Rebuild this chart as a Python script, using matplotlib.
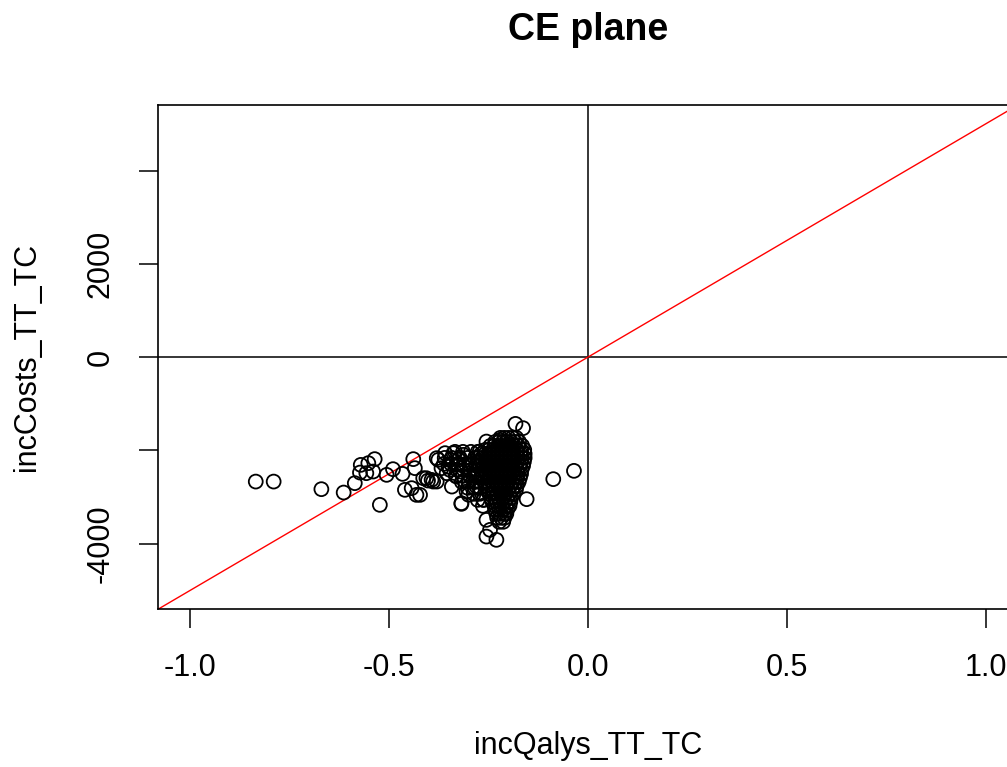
import matplotlib
matplotlib.use("Agg")
import matplotlib.pyplot as plt
import numpy as np

plt.rcParams['font.family'] = ['Liberation Sans', 'DejaVu Sans']
plt.rcParams['axes.unicode_minus'] = False

# scattered simulations
outlier_x = [-0.835, -0.790, -0.670, -0.614, -0.586, -0.573, -0.571, -0.552, -0.536,
             -0.540, -0.557, -0.523, -0.506, -0.490, -0.466, -0.439, -0.435, -0.460,
             -0.443, -0.431, -0.414, -0.402, -0.389, -0.376, -0.087, -0.035, -0.154,
             -0.318, -0.255, -0.230, -0.182, -0.163, -0.255, -0.221]
outlier_y = [-2667, -2667, -2830, -2902, -2701, -2474, -2309, -2272, -2186,
             -2452, -2487, -3166, -2523, -2401, -2502, -2186, -2379, -2844,
             -2808, -2952, -2594, -2645, -2667, -2201, -2615, -2437, -3044,
             -3145, -3846, -3916, -1430, -1522, -1809, -1773]

# sparser left part of the main cloud
fringe_x = [-0.380, -0.359, -0.338, -0.313, -0.406, -0.393, -0.380, -0.422, -0.342,
            -0.318, -0.368, -0.355, -0.330, -0.305, -0.280, -0.272, -0.297, -0.288,
            -0.263, -0.255, -0.246, -0.330, -0.320, -0.310, -0.300, -0.345, -0.290,
            -0.300, -0.350, -0.325, -0.310,
            -0.334, -0.314, -0.294, -0.277,
            -0.360, -0.342, -0.322, -0.302, -0.284,
            -0.362, -0.344, -0.327, -0.307, -0.289,
            -0.347, -0.329, -0.312, -0.294,
            -0.332, -0.314, -0.297, -0.282,
            -0.317, -0.299, -0.282,
            -0.302, -0.284, -0.272,
            -0.287, -0.272,
            -0.277, -0.262,
            -0.264]
fringe_y = [-2165, -2058, -2058, -2094, -2594, -2630, -2667, -2952, -2774,
            -3130, -2380, -2487, -2559, -2881, -2774, -2023, -2309, -2594,
            -3059, -3488, -3702, -2300, -2450, -2650, -2500, -2200, -2800,
            -2950, -2350, -2200, -2350,
            -2030, -2030, -2030, -2030,
            -2159, -2159, -2159, -2159, -2159,
            -2287, -2287, -2287, -2287, -2287,
            -2416, -2416, -2416, -2416,
            -2544, -2544, -2544, -2544,
            -2673, -2673, -2673,
            -2802, -2802, -2802,
            -2930, -2930,
            -3059, -3059,
            -3187]

# dense core of the cloud, one row of estimated points per cost level
core_y = [-1730, -1816, -1901, -1987, -2073, -2159, -2244, -2330, -2416, -2502, -2587,
          -2673, -2759, -2844, -2930, -3016, -3102, -3187, -3273, -3359, -3445, -3530]
core_x = [
    [-0.220, -0.210, -0.200, -0.190, -0.180],
    [-0.233, -0.223, -0.213, -0.203, -0.193, -0.183, -0.173],
    [-0.245, -0.235, -0.225, -0.215, -0.205, -0.195, -0.185, -0.175, -0.165],
    [-0.258, -0.248, -0.238, -0.228, -0.218, -0.208, -0.198, -0.188, -0.178, -0.168, -0.160],
    [-0.268, -0.258, -0.248, -0.238, -0.228, -0.218, -0.208, -0.198, -0.188, -0.178, -0.168, -0.159],
    [-0.276, -0.266, -0.256, -0.246, -0.236, -0.226, -0.216, -0.206, -0.196, -0.186, -0.176, -0.166, -0.159],
    [-0.278, -0.268, -0.258, -0.248, -0.238, -0.228, -0.218, -0.208, -0.198, -0.188, -0.178, -0.168, -0.161],
    [-0.281, -0.271, -0.261, -0.251, -0.241, -0.231, -0.221, -0.211, -0.201, -0.191, -0.181, -0.171, -0.163],
    [-0.278, -0.268, -0.258, -0.248, -0.238, -0.228, -0.218, -0.208, -0.198, -0.188, -0.178, -0.167],
    [-0.276, -0.266, -0.256, -0.246, -0.236, -0.226, -0.216, -0.206, -0.196, -0.186, -0.176, -0.168],
    [-0.268, -0.258, -0.248, -0.238, -0.228, -0.218, -0.208, -0.198, -0.188, -0.178, -0.171],
    [-0.261, -0.251, -0.241, -0.231, -0.221, -0.211, -0.201, -0.191, -0.181, -0.174],
    [-0.255, -0.245, -0.235, -0.225, -0.215, -0.205, -0.195, -0.185, -0.179],
    [-0.250, -0.240, -0.230, -0.220, -0.210, -0.200, -0.190, -0.181],
    [-0.248, -0.238, -0.228, -0.218, -0.208, -0.198, -0.188],
    [-0.243, -0.233, -0.223, -0.213, -0.203, -0.193],
    [-0.240, -0.230, -0.220, -0.210, -0.200, -0.195],
    [-0.235, -0.225, -0.215, -0.205, -0.197],
    [-0.233, -0.223, -0.213, -0.203],
    [-0.230, -0.220, -0.210, -0.205],
    [-0.228, -0.218, -0.210],
    [-0.223, -0.213],
]

wtp = 5000  # threshold line slope
x_ticks = [-1.0, -0.5, 0.0, 0.5, 1.0]
y_ticks = [-4000, -2000, 0, 2000, 4000]
y_labels = ['-4000', '', '0', '2000', '']

inc_qalys = np.array(outlier_x + fringe_x + [x for row in core_x for x in row])
inc_costs = np.array(outlier_y + fringe_y +
                     [y for y, row in zip(core_y, core_x) for _ in row])

fig = plt.figure(figsize=(10.07, 7.67), dpi=100)
ax = fig.add_axes([0.1572, 0.2056, 0.8532, 0.6575])

ax.scatter(inc_qalys, inc_costs, s=100, facecolors='none', edgecolors='black',
           linewidths=1.3, zorder=3)
ax.axhline(0, color='black', lw=1.1)
ax.axvline(0, color='black', lw=1.1)
ax.axline((0, 0), slope=wtp, color='red', lw=1.0)

ax.set_xlim(-1.08, 1.08)
ax.set_ylim(-5405, 5405)
ax.set_xticks(x_ticks)
ax.set_xticklabels(['%.1f' % v for v in x_ticks])
ax.set_yticks(y_ticks)
ax.set_yticklabels(y_labels)

for s in ax.spines.values():
    s.set_linewidth(1.2)
ax.tick_params(axis='both', length=13.7, width=1.1, labelsize=22, direction='out')
ax.tick_params(axis='x', pad=18)
ax.tick_params(axis='y', pad=17, labelrotation=90)
for lab in ax.get_yticklabels():
    lab.set_va('center')

ax.set_xlabel('incQalys_TT_TC', fontsize=22)
ax.set_ylabel('incCosts_TT_TC', fontsize=22)
ax.xaxis.set_label_coords(0.5, -0.2413)
ax.yaxis.set_label_coords(-0.1357, 0.5)

fig.text(0.5838, 1 - 40 / 767, 'CE plane', fontsize=27, fontweight='bold',
         ha='center', va='baseline')

fig.savefig('out.png', dpi=100)
